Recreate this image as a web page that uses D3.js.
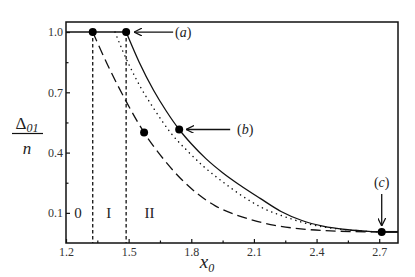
<!DOCTYPE html>
<html><head><meta charset="utf-8">
<script src="https://cdn.jsdelivr.net/npm/d3@7"></script>
<style>
html,body{margin:0;padding:0;background:#fff;}
svg text{font-family:"Liberation Serif","Times New Roman","DejaVu Serif",serif !important;}
</style></head>
<body><svg id="c" width="415" height="277"></svg>
<script>
// ---- data ----
const xTicks = [1.2, 1.5, 1.8, 2.1, 2.4, 2.7];
const xMinor = [1.35, 1.65, 1.95, 2.25, 2.55];
const yTicks = [0.1, 0.4, 0.7, 1.0];
const yMinor = [0.25, 0.55, 0.85];
// solid curve
const solidX = [1.2, 1.488, 1.55, 1.62, 1.68, 1.742, 1.80, 1.87, 1.95, 2.03, 2.13, 2.23, 2.33, 2.43, 2.55, 2.65, 2.712, 2.79];
const solidY = [1.0, 1.0, 0.851, 0.709, 0.607, 0.515, 0.444, 0.37, 0.30, 0.240, 0.172, 0.107, 0.062, 0.034, 0.016, 0.008, 0.005, 0.005];
// dotted curve
const dotX = [1.435, 1.47, 1.51, 1.56, 1.62, 1.70, 1.78, 1.86, 1.95, 2.05, 2.15, 2.25, 2.35, 2.45, 2.55, 2.65, 2.712];
const dotY = [1.0, 0.91, 0.82, 0.72, 0.62, 0.50, 0.41, 0.33, 0.255, 0.18, 0.12, 0.08, 0.048, 0.027, 0.015, 0.008, 0.005];
// long-dashed curve
const dashX = [1.328, 1.40, 1.488, 1.574, 1.65, 1.75, 1.83, 1.915, 2.02, 2.115, 2.2, 2.35, 2.5, 2.712];
const dashY = [1.0, 0.835, 0.655, 0.50, 0.39, 0.27, 0.195, 0.135, 0.088, 0.058, 0.038, 0.018, 0.009, 0.005];
// vertical boundaries
const boundaries = [1.328, 1.488];
// marked points
const markX = [1.328, 1.488, 1.574, 1.742, 2.712];
const markY = [1.0, 1.0, 0.5, 0.515, 0.005];
// region labels
const regionText = ["0", "I", "II"];
const regionX = [1.258, 1.405, 1.6];
const regionY = [0.1, 0.1, 0.1];

// ---- layout ----
const svg = d3.select("#c");
const L = 66, R = 398, T = 22, B = 243;
const x = d3.scaleLinear().domain([1.2, 2.79]).range([L, R]);
const y = d3.scaleLinear().domain([-0.05, 1.05]).range([B, T]);
const ink = "#111";
const serif = "'Liberation Serif','Times New Roman',serif";

// axes
const gx = svg.append("g").attr("transform", `translate(0,${B})`)
  .call(d3.axisBottom(x).tickValues(xTicks).tickSize(-4).tickPadding(4.5).tickFormat(d3.format(".1f")));
const gxm = svg.append("g").attr("transform", `translate(0,${B})`)
  .call(d3.axisBottom(x).tickValues(xMinor).tickSize(-2.5).tickFormat(""));
const gy = svg.append("g").attr("transform", `translate(${L},0)`)
  .call(d3.axisLeft(y).tickValues(yTicks).tickSize(-4).tickPadding(3).tickFormat(d3.format(".1f")));
const gym = svg.append("g").attr("transform", `translate(${L},0)`)
  .call(d3.axisLeft(y).tickValues(yMinor).tickSize(-2.5).tickFormat(""));
[gx, gxm, gy, gym].forEach(g => {
  g.attr("font-family", serif);
  g.select(".domain").remove();
  g.selectAll("line").attr("stroke", ink).attr("stroke-width", 1.2);
  g.selectAll("text").attr("font-size", 12).attr("fill", "#333").attr("font-family", serif);
});

// frame
svg.append("rect").attr("x", L).attr("y", T).attr("width", R - L).attr("height", B - T)
  .attr("fill", "none").attr("stroke", ink).attr("stroke-width", 1.5);

// boundaries
svg.selectAll(".bnd").data(boundaries).join("line")
  .attr("x1", d => x(d)).attr("x2", d => x(d)).attr("y1", y(1.0)).attr("y2", B)
  .attr("stroke", ink).attr("stroke-width", 1.3).attr("stroke-dasharray", "3.5,2.5");

const pts = (xs, ys) => xs.map((v, i) => [v, ys[i]]);
const lineLin = d3.line().x(d => x(d[0])).y(d => y(d[1]));
const lineCurve = d3.line().x(d => x(d[0])).y(d => y(d[1])).curve(d3.curveMonotoneX);

const sp = pts(solidX, solidY);
svg.append("path").attr("d", lineLin(sp.slice(0, 2))).attr("fill", "none").attr("stroke", ink).attr("stroke-width", 1.6);
svg.append("path").attr("d", lineCurve(sp.slice(1, sp.length - 1))).attr("fill", "none").attr("stroke", ink).attr("stroke-width", 1.3);
svg.append("path").attr("d", lineLin(sp.slice(sp.length - 2))).attr("fill", "none").attr("stroke", ink).attr("stroke-width", 2);

svg.append("path").attr("d", lineCurve(pts(dotX, dotY))).attr("fill", "none").attr("stroke", ink)
  .attr("stroke-width", 1.5).attr("stroke-linecap", "round").attr("stroke-dasharray", "0.1,5");
svg.append("path").attr("d", lineCurve(pts(dashX, dashY))).attr("fill", "none").attr("stroke", ink)
  .attr("stroke-width", 1.3).attr("stroke-dasharray", "10,5");

// dots
svg.selectAll(".mk").data(pts(markX, markY)).join("circle")
  .attr("cx", d => x(d[0])).attr("cy", d => y(d[1])).attr("r", 4).attr("fill", "#000");

// arrows
const defs = svg.append("defs");
defs.append("marker").attr("id", "ah").attr("viewBox", "0 0 10 10").attr("refX", 10).attr("refY", 5)
  .attr("markerWidth", 8).attr("markerHeight", 8).attr("orient", "auto-start-reverse")
  .attr("markerUnits", "userSpaceOnUse")
  .append("path").attr("d", "M0,0 L10,5 L0,10").attr("fill", "none").attr("stroke", ink).attr("stroke-width", 1.6);

function arrow(x1, y1, x2, y2) {
  svg.append("line").attr("x1", x1).attr("y1", y1).attr("x2", x2).attr("y2", y2)
    .attr("stroke", ink).attr("stroke-width", 1.3).attr("marker-end", "url(#ah)");
}
arrow(x(1.488) + 47, y(1.0), x(1.488) + 8, y(1.0));
arrow(x(1.742) + 51, y(0.515), x(1.742) + 7, y(0.515));
arrow(x(2.712), y(0.005) - 38, x(2.712), y(0.005) - 6);

function lab(t, xx, yy, size) {
  svg.append("text").attr("x", xx).attr("y", yy).attr("font-size", size).attr("text-anchor", "middle")
    .attr("font-family", serif).attr("fill", "#222").html(t);
}
lab("(<tspan font-style='italic'>a</tspan>)", x(1.488) + 57, y(1.0) + 4.5, 14);
lab("(<tspan font-style='italic'>b</tspan>)", x(1.742) + 66, y(0.515) + 4.5, 14);
lab("(<tspan font-style='italic'>c</tspan>)", x(2.712), y(0.005) - 45, 14);

// region labels
regionText.forEach((t, i) => {
  svg.append("text").attr("x", x(regionX[i])).attr("y", y(regionY[i]) + 5).attr("text-anchor", "middle")
    .attr("font-family", serif).attr("font-size", 15).attr("fill", "#222").text(t);
});

// axis titles
svg.append("text").attr("x", 207).attr("y", 268).attr("text-anchor", "middle").attr("font-size", 19)
  .attr("font-family", serif).attr("fill", "#222")
  .html("<tspan font-style='italic'>x</tspan><tspan font-style='italic' font-size='12' dy='4'>0</tspan>");
svg.append("text").attr("x", 27).attr("y", 129).attr("text-anchor", "middle").attr("font-size", 17)
  .attr("font-family", serif).attr("fill", "#222")
  .html("Δ<tspan font-style='italic' font-size='12' dy='3'>01</tspan>");
svg.append("line").attr("x1", 12).attr("x2", 43).attr("y1", 133.5).attr("y2", 133.5).attr("stroke", ink).attr("stroke-width", 1.2);
svg.append("text").attr("x", 27).attr("y", 154).attr("text-anchor", "middle").attr("font-size", 17)
  .attr("font-family", serif).attr("font-style", "italic").attr("fill", "#222").text("n");
</script></body></html>
